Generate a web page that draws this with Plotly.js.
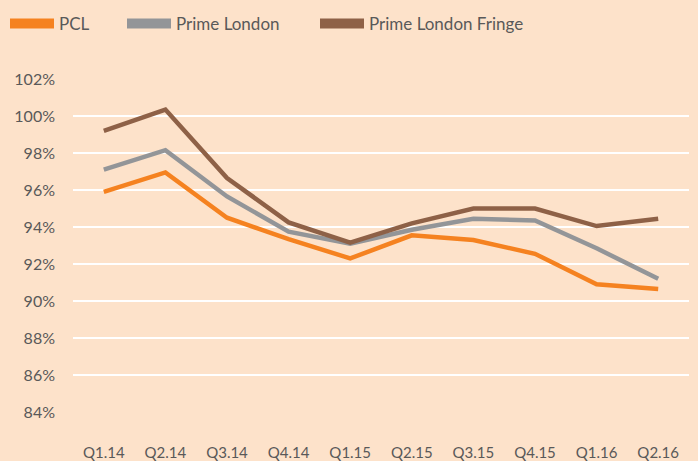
<!DOCTYPE html>
<html>
<head>
<meta charset="utf-8">
<script src="https://cdn.plot.ly/plotly-3.0.1.min.js"></script>
<style>html,body{margin:0;padding:0;background:#fde2ca;}#chart{width:698px;height:461px;}</style>
</head>
<body>
<div id="chart"></div>
<script>
// Data (values in %)
const quarters = ['Q1.14','Q2.14','Q3.14','Q4.14','Q1.15','Q2.15','Q3.15','Q4.15','Q1.16','Q2.16'];
const pcl          = [95.9, 96.95, 94.5, 93.35, 92.3, 93.55, 93.3, 92.55, 90.9, 90.65];
const primeLondon  = [97.1, 98.15, 95.65, 93.75, 93.1, 93.85, 94.45, 94.35, 92.85, 91.2];
const primeFringe  = [99.2, 100.35, 96.65, 94.25, 93.15, 94.2, 95.0, 95.0, 94.05, 94.45];
const seriesNames  = ['PCL', 'Prime London', 'Prime London Fringe'];
const tickVals     = [84, 86, 88, 90, 92, 94, 96, 98, 100, 102];
const tickText     = ['84%', '86%', '88%', '90%', '92%', '94%', '96%', '98%', '100%', '102%'];

const colors = ['#f58220', '#939598', '#8e6147'];
const series = [pcl, primeLondon, primeFringe];
const legendIds = ['legend', 'legend2', 'legend3'];

const traces = [];
series.forEach((ys, i) => {
  traces.push({
    type: 'scatter', mode: 'lines', x: quarters, y: ys, name: seriesNames[i],
    line: {color: colors[i], width: 4.5}, showlegend: false, hoverinfo: 'x+y+name'
  });
});
// legend-only entries (wide swatches), no drawn points
series.forEach((ys, i) => {
  traces.push({
    type: 'scatter', mode: 'lines', x: [quarters[0]], y: [null], name: seriesNames[i],
    line: {color: colors[i], width: 16}, showlegend: true, legend: legendIds[i]
  });
});

const legendBase = {
  orientation: 'h', xref: 'container', yref: 'container', yanchor: 'top', xanchor: 'left',
  itemwidth: 44,
  bgcolor: 'rgba(0,0,0,0)', font: {family: 'Lato, sans-serif', size: 17, color: '#595959'}
};
const legendX = [5, 122, 315];

const layout = {
  width: 698, height: 461,
  paper_bgcolor: '#fde2ca', plot_bgcolor: '#fde2ca',
  margin: {l: 73, r: 9, t: 79, b: 49},
  font: {family: 'Lato, sans-serif', color: '#595959'},
  xaxis: {
    type: 'category', range: [-0.5, quarters.length - 0.5],
    showgrid: false, zeroline: false, showline: false,
    ticks: '', tickfont: {size: 15, color: '#595959'}, ticklabelstandoff: 30
  },
  yaxis: {
    range: [84, 102], tickmode: 'array', tickvals: tickVals, ticktext: tickText,
    showgrid: true, gridcolor: '#ffffff', gridwidth: 2,
    zeroline: false, showline: false, ticks: '',
    tickfont: {size: 16, color: '#595959'}, ticklabelstandoff: 17
  },
  legend:  Object.assign({}, legendBase, {x: legendX[0] / 698, y: 1 - 6 / 461}),
  legend2: Object.assign({}, legendBase, {x: legendX[1] / 698, y: 1 - 6 / 461}),
  legend3: Object.assign({}, legendBase, {x: legendX[2] / 698, y: 1 - 6 / 461}),
  showlegend: true
};

Plotly.newPlot('chart', traces, layout, {displayModeBar: false, staticPlot: true});
</script>
</body>
</html>
